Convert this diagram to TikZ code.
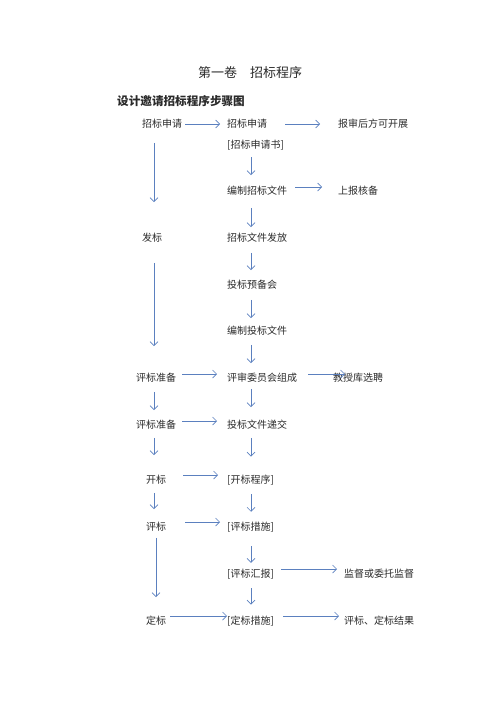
\documentclass[tikz,border=0pt]{standalone}
\usepackage{fontspec}
\newfontfamily\cjk{Noto Sans CJK SC}
\usetikzlibrary{arrows.meta}
\definecolor{arrblue}{HTML}{5B80BF}
\definecolor{txt}{HTML}{2A2A2A}
\tikzset{
  lbl/.style={anchor=west, inner sep=0pt, font=\cjk\fontsize{10}{12}\selectfont, text=txt},
  arr/.style={draw=arrblue, line width=0.7pt, -{Straight Barb[length=4pt,width=8pt]}},
}
\begin{document}
\begin{tikzpicture}[x=1pt,y=-1pt]
\useasboundingbox (0,0) rectangle (500,707);
\coordinate (lx) at (154,0);
\coordinate (lx2) at (156,0);
\coordinate (rx) at (251,0);
% title and heading
\node[inner sep=0pt, font=\cjk\fontsize{13}{15}\selectfont, text=txt] (title) at (250,73) {第一卷\hspace{1em}招标程序};
\node[anchor=west, inner sep=0pt, font=\cjk\bfseries\fontsize{11.6}{14}\selectfont, text=txt] (head) at (117,101) {设计邀请招标程序步骤图};
% left column
\node[lbl] (l1) at (142,124) {招标申请};
\node[lbl] (l2) at (142,238) {发标};
\node[lbl] (l3) at (136,378) {评标准备};
\node[lbl] (l4) at (136,425) {评标准备};
\node[lbl] (l5) at (146,480) {开标};
\node[lbl] (l6) at (146,527) {评标};
\node[lbl] (l7) at (146,621) {定标};
% middle column
\node[lbl] (m1) at (227,124) {招标申请};
\node[lbl] (m1b) at (227,145) {[招标申请书]};
\node[lbl] (m2) at (227,191) {编制招标文件};
\node[lbl] (m3) at (227,238) {招标文件发放};
\node[lbl] (m4) at (227,285) {投标预备会};
\node[lbl] (m5) at (227,331) {编制投标文件};
\node[lbl] (m6) at (227,378) {评审委员会组成};
\node[lbl] (m7) at (227,425) {投标文件递交};
\node[lbl] (m8) at (227,480) {[开标程序]};
\node[lbl] (m9) at (227,527) {[评标措施]};
\node[lbl] (m10) at (227,574) {[评标汇报]};
\node[lbl] (m11) at (227,621) {[定标措施]};
% right column
\node[lbl] (r1) at (338,124) {报审后方可开展};
\node[lbl] (r2) at (338,191) {上报核备};
\node[lbl] (r3) at (333,378) {教授库选聘};
\node[lbl] (r4) at (344,574) {监督或委托监督};
\node[lbl] (r5) at (344,621) {评标、定标结果};
% horizontal arrows
\draw[arr, shorten <=3pt, shorten >=7pt] (l1.east) -- (m1.west);
\draw[arr, shorten <=18pt, shorten >=18pt] (m1.east) -- (r1.west);
\draw[arr, shorten <=8pt, shorten >=16pt] ([yshift=4pt]m2.east) -- ([yshift=4pt]r2.west);
\draw[arr, shorten <=6pt, shorten >=10pt] ([yshift=4pt]l3.east) -- ([yshift=4pt]m6.west);
\draw[arr, shorten <=11pt, shorten >=-12pt] ([yshift=4pt]m6.east) -- ([yshift=4pt]r3.west);
\draw[arr, shorten <=6pt, shorten >=10pt] ([yshift=4pt]l4.east) -- ([yshift=4pt]m7.west);
\draw[arr, shorten <=17pt, shorten >=9pt] ([yshift=5pt]l5.east) -- ([yshift=5pt]m8.west);
\draw[arr, shorten <=19pt, shorten >=7pt] ([yshift=5pt]l6.east) -- ([yshift=5pt]m9.west);
\draw[arr, shorten <=7pt, shorten >=7pt] ([yshift=5pt]m10.east) -- ([yshift=5pt]r4.west);
\draw[arr, shorten <=4pt, shorten >=0pt] ([yshift=5pt]l7.east) -- ([yshift=5pt]m11.west);
\draw[arr, shorten <=9pt, shorten >=5pt] ([yshift=5pt]m11.east) -- ([yshift=5pt]r5.west);
% middle vertical arrows
\draw[arr, shorten <=7pt, shorten >=11pt] (rx |- m1b.south) -- (rx |- m2.north);
\draw[arr, shorten <=12pt, shorten >=6pt] (rx |- m2.south) -- (rx |- m3.north);
\draw[arr, shorten <=10pt, shorten >=10pt] (rx |- m3.south) -- (rx |- m4.north);
\draw[arr, shorten <=10pt, shorten >=8pt] (rx |- m4.south) -- (rx |- m5.north);
\draw[arr, shorten <=9pt, shorten >=10pt] (rx |- m5.south) -- (rx |- m6.north);
\draw[arr, shorten <=6pt, shorten >=13pt] (rx |- m6.south) -- (rx |- m7.north);
\draw[arr, shorten <=8pt, shorten >=18pt] (rx |- m7.south) -- (rx |- m8.north);
\draw[arr, shorten <=9pt, shorten >=10pt] (rx |- m8.south) -- (rx |- m9.north);
\draw[arr, shorten <=14pt, shorten >=6pt] (rx |- m9.south) -- (rx |- m10.north);
\draw[arr, shorten <=9pt, shorten >=11pt] (rx |- m10.south) -- (rx |- m11.north);
% left vertical arrows
\draw[arr, shorten <=14pt, shorten >=31pt] (lx |- l1.south) -- (lx |- l2.north);
\draw[arr, shorten <=20pt, shorten >=27pt] (lx |- l2.south) -- (lx |- l3.north);
\draw[arr, shorten <=9pt, shorten >=10pt] (lx |- l3.south) -- (lx |- l4.north);
\draw[arr, shorten <=8pt, shorten >=20pt] (lx |- l4.south) -- (lx |- l5.north);
\draw[arr, shorten <=8pt, shorten >=13pt] (lx |- l5.south) -- (lx |- l6.north);
\draw[arr, shorten <=6pt, shorten >=19pt] (lx2 |- l6.south) -- (lx2 |- l7.north);
\end{tikzpicture}
\end{document}
